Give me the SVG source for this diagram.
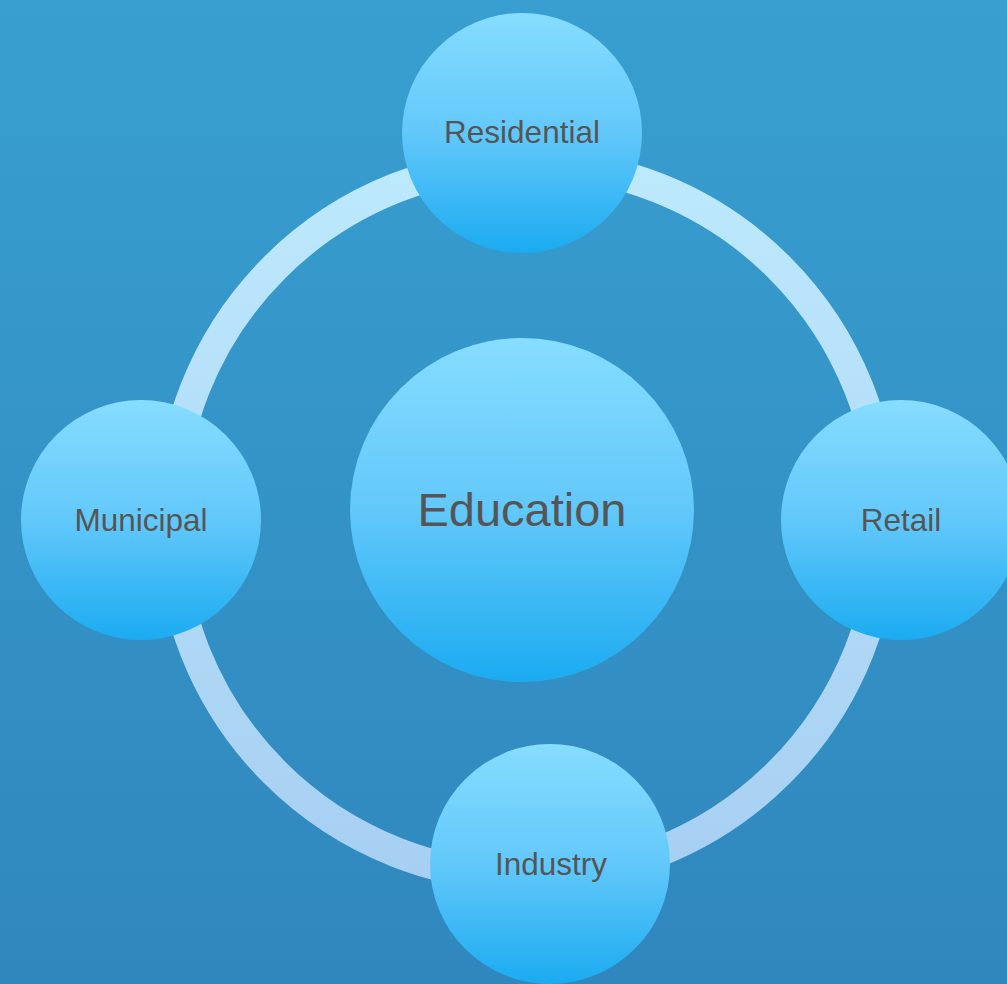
<svg xmlns="http://www.w3.org/2000/svg" width="1007" height="984" viewBox="0 0 1007 984">
  <defs>
    <linearGradient id="bg" x1="0" y1="0" x2="0" y2="1">
      <stop offset="0" stop-color="#389fd0"/>
      <stop offset="1" stop-color="#3087bd"/>
    </linearGradient>
    <linearGradient id="ring" x1="0" y1="0" x2="0" y2="1">
      <stop offset="0" stop-color="#bde9fd"/>
      <stop offset="1" stop-color="#a7cff2"/>
    </linearGradient>
    <linearGradient id="node" x1="0" y1="0" x2="0" y2="1">
      <stop offset="0" stop-color="#86ddff"/>
      <stop offset="0.5" stop-color="#62c8fa"/>
      <stop offset="1" stop-color="#1babf1"/>
    </linearGradient>
    <style>
      .n { fill: url(#node); }
      .t { font-family: "Liberation Sans", Arial, sans-serif; fill: #555555; text-anchor: middle; font-size: 31.5px; }
      .big { font-size: 47px; }
    </style>
  </defs>
  <rect x="0" y="0" width="1007" height="984" fill="url(#bg)"/>
  <g id="connectors">
    <circle cx="527" cy="520" r="357" fill="none" stroke="url(#ring)" stroke-width="30"/>
  </g>
  <g id="education">
    <circle class="n" cx="522" cy="510" r="172"/>
    <text class="t big" x="522" y="526">Education</text>
  </g>
  <g id="residential">
    <circle class="n" cx="522" cy="133" r="120"/>
    <text class="t" x="522" y="143">Residential</text>
  </g>
  <g id="municipal">
    <circle class="n" cx="141" cy="520" r="120"/>
    <text class="t" x="141" y="531">Municipal</text>
  </g>
  <g id="retail">
    <circle class="n" cx="901" cy="520" r="120"/>
    <text class="t" x="901" y="531">Retail</text>
  </g>
  <g id="industry">
    <circle class="n" cx="550" cy="864" r="120"/>
    <text class="t" x="551" y="875">Industry</text>
  </g>
</svg>
